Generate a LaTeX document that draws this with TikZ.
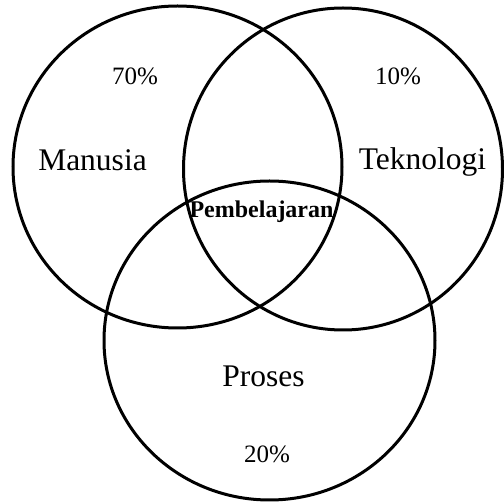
\documentclass[tikz,border=0pt]{standalone}
\usepackage{fontspec}
\setmainfont{Liberation Serif}
\begin{document}
\begin{tikzpicture}[x=1pt,y=-1pt,
  ring/.style={draw=black,line width=3pt},
  biglabel/.style={inner sep=0pt,font=\fontsize{31.5}{36}\selectfont},
  pct/.style={inner sep=0pt,font=\fontsize{25}{30}\selectfont},
  core/.style={inner sep=0pt,font=\bfseries\fontsize{24}{28}\selectfont}]
\useasboundingbox (0,0) rectangle (504,502);
\draw[ring] (177.5,167) ellipse [x radius=164.5, y radius=161];
\draw[ring] (343,169) ellipse [x radius=159.5, y radius=161];
\draw[ring] (269.5,340.5) ellipse [x radius=165.5, y radius=159.5];
\node[pct] (p70) at (135,76) {70\%};
\node[pct] (p10) at (398,76) {10\%};
\node[biglabel] (manusia) at (92.5,160) {Manusia};
\node[biglabel] (teknologi) at (422.5,162) {Teknologi};
\node[core] (pembelajaran) at (261.5,212) {Pembelajaran};
\node[biglabel] (proses) at (263.5,376) {Proses};
\node[pct] (p20) at (267,454) {20\%};
\end{tikzpicture}
\end{document}
